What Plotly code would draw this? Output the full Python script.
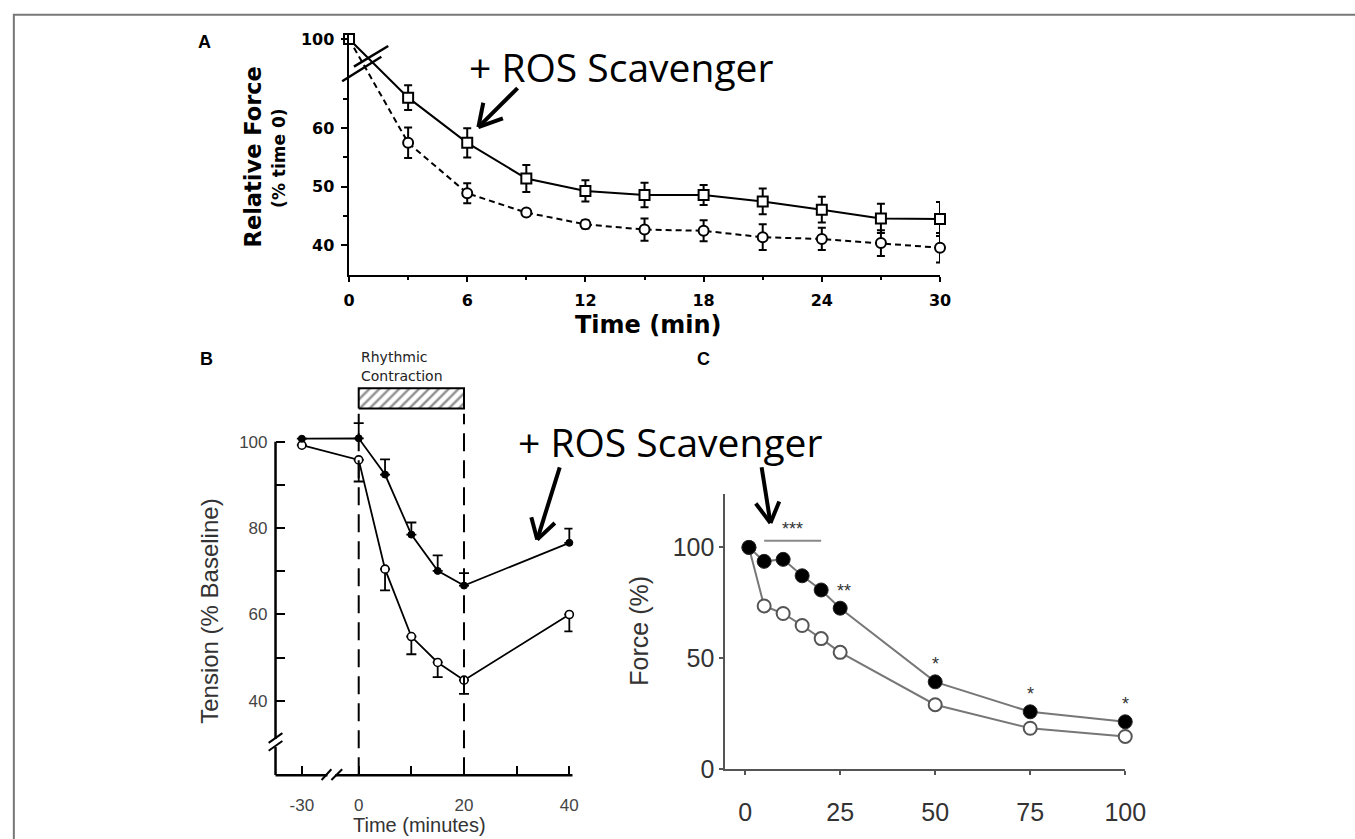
import plotly.graph_objects as go

W, H = 1355, 839


def X(px):
    return px / W


def Y(py):
    return 1 - py / H


# ---------------- data ----------------
# Panel A : relative force (% time 0) vs time (min)
a_time = [0, 3, 6, 9, 12, 15, 18, 21, 24, 27, 30]
a_scav = [100, 65.2, 57.5, 51.4, 49.3, 48.6, 48.6, 47.5, 46.1, 44.6, 44.5]
a_scav_err = [0, 2.1, 2.5, 2.3, 1.8, 2.1, 1.7, 2.2, 2.2, 2.5, 2.9]
a_ctrl = [100, 57.5, 48.9, 45.6, 43.6, 42.7, 42.5, 41.4, 41.1, 40.4, 39.6]
a_ctrl_err = [0, 2.6, 1.7, 0.5, 0.7, 1.9, 1.8, 2.2, 1.9, 2.2, 2.5]
a_xticks = [0, 6, 12, 18, 24, 30]
a_xminor = [3, 9, 15, 21, 27]
a_yticks = [40, 50, 60, 100]
a_yminor = [45, 55, 65]

# Panel B : tension (% baseline) vs time (minutes)
b_time = [-30, 0, 5, 10, 15, 20, 40]
b_scav = [100.7, 100.8, 92.4, 78.5, 70.1, 66.7, 76.6]
b_scav_err = [0, 3.5, 3.5, 2.8, 3.6, 2.9, 3.3]
b_ctrl = [99.2, 95.8, 70.5, 54.9, 48.9, 44.8, 60.0]
b_ctrl_err = [0, 5.0, 4.9, 4.1, 3.4, 3.2, 3.9]
b_xticks = [-30, 0, 10, 20, 30, 40]
b_xticktext = ["-30", "0", "", "20", "", "40"]
b_yticks = [40, 50, 60, 70, 80, 90, 100]
b_yticktext = ["40", "", "60", "", "80", "", "100"]
contraction = [0, 20]

# Panel C : force (%) vs time
c_time = [1, 5, 10, 15, 20, 25, 50, 75, 100]
c_scav = [100, 93.7, 94.6, 87.2, 80.8, 72.6, 39.4, 25.9, 21.4]
c_ctrl = [100, 73.6, 70.2, 64.8, 58.9, 52.7, 29.1, 18.5, 14.8]
c_xticks = [0, 25, 50, 75, 100]
c_yticks = [0, 50, 100]
c_sig_x = [12.5, 26, 50, 75, 100]
c_sig_y = [108.5, 80.5, 47.5, 34, 29.5]
c_sig_text = ["***", "**", "*", "*", "*"]
c_sig_bar = [5, 20]
c_sig_bar_y = 103

# ---------------- broken-axis helpers ----------------
A_SHIFT = 24.8  # values above the break are drawn this much lower


def a_disp(v):
    return v - A_SHIFT if v > 72 else v


B_NEG = 0.36  # compression of the negative (pre) time segment


def b_disp(t):
    return t * B_NEG if t < 0 else t


fig = go.Figure()

# ---------------- Panel A ----------------
fig.add_trace(go.Scatter(
    x=a_time, y=[a_disp(v) for v in a_ctrl], mode="lines+markers",
    line=dict(color="black", width=2, dash="6px,4px"),
    marker=dict(symbol="circle", size=10, color="white", line=dict(color="black", width=2)),
    error_y=dict(type="data", array=a_ctrl_err, color="black", thickness=2, width=4),
    cliponaxis=False, xaxis="x", yaxis="y", showlegend=False))
fig.add_trace(go.Scatter(
    x=a_time, y=[a_disp(v) for v in a_scav], mode="lines+markers",
    line=dict(color="black", width=2),
    marker=dict(symbol="square", size=10, color="white", line=dict(color="black", width=2)),
    error_y=dict(type="data", array=a_scav_err, color="black", thickness=2, width=4),
    cliponaxis=False, xaxis="x", yaxis="y", showlegend=False))

# ---------------- Panel B ----------------
bx = [b_disp(t) for t in b_time]
# hatched "Rhythmic Contraction" bar
box_y0, box_y1 = 107.7, 112.4
fig.add_trace(go.Scatter(
    x=[contraction[0], contraction[1], contraction[1], contraction[0], contraction[0]],
    y=[box_y0, box_y0, box_y1, box_y1, box_y0], mode="lines", fill="toself",
    fillcolor="white",
    fillpattern=dict(shape="/", fgcolor="#222", bgcolor="white", size=7, solidity=0.35),
    line=dict(color="black", width=2), xaxis="x2", yaxis="y2", showlegend=False,
    hoverinfo="skip"))
fig.add_trace(go.Scatter(
    x=bx, y=b_ctrl, mode="lines+markers",
    line=dict(color="black", width=1.8),
    marker=dict(symbol="circle", size=8, color="white", line=dict(color="black", width=1.6)),
    error_y=dict(type="data", symmetric=False, array=[0] * len(b_ctrl_err),
                 arrayminus=b_ctrl_err, color="black", thickness=1.8, width=5),
    cliponaxis=False, xaxis="x2", yaxis="y2", showlegend=False))
fig.add_trace(go.Scatter(
    x=bx, y=b_scav, mode="lines+markers",
    line=dict(color="black", width=1.8),
    marker=dict(symbol="circle", size=7, color="black", line=dict(color="black", width=1)),
    error_y=dict(type="data", symmetric=False, array=b_scav_err,
                 arrayminus=[0] * len(b_scav_err), color="black", thickness=1.8, width=5),
    cliponaxis=False, xaxis="x2", yaxis="y2", showlegend=False))

# ---------------- Panel C ----------------
fig.add_trace(go.Scatter(
    x=c_time, y=c_ctrl, mode="lines+markers",
    line=dict(color="#777", width=2),
    marker=dict(symbol="circle", size=13, color="white", line=dict(color="#555", width=2)),
    cliponaxis=False, xaxis="x3", yaxis="y3", showlegend=False))
fig.add_trace(go.Scatter(
    x=c_time, y=c_scav, mode="lines+markers",
    line=dict(color="#777", width=2),
    marker=dict(symbol="circle", size=14, color="black", line=dict(color="#222", width=1)),
    cliponaxis=False, xaxis="x3", yaxis="y3", showlegend=False))

# ---------------- axes ----------------
fontA = dict(family="DejaVu Sans", size=16, color="black", weight="bold")
fontB = dict(family="Liberation Sans", size=17, color="#444")
fontC = dict(family="Liberation Sans", size=25, color="#333")

layout = dict(
    width=W, height=H, autosize=False,
    margin=dict(l=0, r=0, t=0, b=0),
    paper_bgcolor="white", plot_bgcolor="rgba(0,0,0,0)",
    xaxis=dict(domain=[X(350), X(953)], range=[0, 30], anchor="y",
               showline=True, linecolor="black", linewidth=2.5,
               ticks="outside", ticklen=5, tickwidth=2, tickcolor="black",
               tickvals=a_xticks, tickfont=fontA, ticklabelstandoff=5,
               minor=dict(tickvals=a_xminor, ticks="outside", ticklen=3, tickwidth=2, tickcolor="black"),
               showgrid=False, zeroline=False, fixedrange=True),
    yaxis=dict(domain=[Y(276), Y(30)], range=[35, 76], anchor="x",
               showline=True, linecolor="black", linewidth=2.5,
               ticks="outside", ticklen=6, tickwidth=2, tickcolor="black",
               tickvals=[a_disp(v) for v in a_yticks], ticktext=[str(v) for v in a_yticks],
               tickfont=fontA, ticklabelstandoff=3,
               minor=dict(tickvals=a_yminor, ticks="outside", ticklen=4, tickwidth=2, tickcolor="black"),
               showgrid=False, zeroline=False, fixedrange=True),
    xaxis2=dict(domain=[X(275), X(578)], range=[-15.8, 40.6], anchor="y2",
                showline=False, ticks="inside", ticklen=9, tickwidth=2, tickcolor="black",
                tickvals=[b_disp(t) for t in b_xticks], ticktext=b_xticktext,
                tickfont=fontB, ticklabelstandoff=18,
                showgrid=False, zeroline=False, fixedrange=True),
    yaxis2=dict(domain=[Y(788), Y(347)], range=[22.8, 122.6], anchor="x2",
                showline=False, ticks="inside", ticklen=9, tickwidth=2, tickcolor="black",
                tickvals=b_yticks, ticktext=b_yticktext, tickfont=fontB, ticklabelstandoff=7,
                showgrid=False, zeroline=False, fixedrange=True),
    xaxis3=dict(domain=[X(734), X(1142)], range=[-5.2, 100], anchor="y3",
                showline=True, linecolor="#555", linewidth=2,
                ticks="outside", ticklen=4, tickwidth=2, tickcolor="#555",
                tickvals=c_xticks, tickfont=fontC, ticklabelstandoff=16,
                showgrid=False, zeroline=False, fixedrange=True),
    yaxis3=dict(domain=[Y(782), Y(500)], range=[0, 124.2], anchor="x3",
                showline=True, linecolor="#555", linewidth=2,
                ticks="outside", ticklen=4, tickwidth=2, tickcolor="#555",
                tickvals=c_yticks, tickfont=fontC, ticklabelstandoff=0,
                showgrid=False, zeroline=False, fixedrange=True),
)


def note(text, px, py, size, color="black", family="Liberation Sans", weight="normal",
         angle=0, xanchor="center", yanchor="middle", yshift=0):
    return dict(text=text, x=X(px), y=Y(py), xref="paper", yref="paper", showarrow=False,
                textangle=angle, xanchor=xanchor, yanchor=yanchor, yshift=yshift,
                font=dict(size=size, color=color, family=family, weight=weight))


annotations = [
    note("A", 203, 38, 18, weight="bold"),
    note("B", 205, 362, 18, weight="bold"),
    note("C", 712, 362, 18, weight="bold"),
    note("Relative Force", 253, 155, 22.5, family="DejaVu Sans", weight="bold", angle=-90),
    note("(% time 0)", 279, 157, 17, family="DejaVu Sans", weight="bold", angle=-90),
    note("Time (min)", 656, 327, 24, family="DejaVu Sans", weight="bold"),
    note("+ ROS Scavenger", 628, 63, 39, family="Open Sans"),
    note("+ ROS Scavenger", 678, 447, 39, family="Open Sans"),
    note("Rhythmic", 360, 360, 14, color="#222", family="DejaVu Sans", xanchor="left"),
    note("Contraction", 360, 380, 14, color="#222", family="DejaVu Sans", xanchor="left"),
    note("Tension (% Baseline)", 208, 620, 24, color="#333", angle=-90),
    note("Time (minutes)", 422, 827, 20, color="#333", yshift=-12),
    note("Force (%)", 645, 640, 25, color="#333", angle=-90),
]
for sx, sy, st in zip(c_sig_x, c_sig_y, c_sig_text):
    annotations.append(dict(text=st, x=sx, y=sy, xref="x3", yref="y3", showarrow=False,
                            font=dict(size=18, color="#333", family="Liberation Sans")))
layout["annotations"] = annotations


def seg(x0, y0, x1, y1, width=2, color="black", dash=None):
    d = dict(type="line", xref="paper", yref="paper", x0=X(x0), y0=Y(y0), x1=X(x1), y1=Y(y1),
             line=dict(color=color, width=width))
    if dash:
        d["line"]["dash"] = dash
    return d


def arrow(tail, tip, arm1, arm2, width=4):
    return [seg(*tail, *tip, width=width), seg(*tip, *arm1, width=width), seg(*tip, *arm2, width=width)]


shapes = [
    # outer frame
    dict(type="rect", xref="paper", yref="paper", x0=X(8), x1=1.05, y0=-0.05, y1=Y(10),
         line=dict(color="#777", width=2), fillcolor="rgba(0,0,0,0)"),
    # panel A axis break
    seg(343, 78, 383, 53, width=2.5),
    seg(355, 63, 390, 42, width=2.5),
    # panel B axis lines (with breaks)
    seg(275, 788, 328, 788, width=2.5),
    seg(336, 788, 578, 788, width=2.5),
    seg(322, 793, 332, 782, width=2),
    seg(332, 793, 343, 782, width=2),
    dict(type="line", xref="x2 domain", yref="y2", x0=0, x1=0, y0=22.8, y1=29.3,
         line=dict(color="black", width=2.5)),
    dict(type="line", xref="x2 domain", yref="y2", x0=0, x1=0, y0=31.2, y1=100,
         line=dict(color="black", width=2.5)),
    seg(268, 755, 282, 745, width=2),
    seg(268, 763, 282, 753, width=2),
    # panel C significance bar
    dict(type="line", xref="x3", yref="y3", x0=c_sig_bar[0], x1=c_sig_bar[1],
         y0=c_sig_bar_y, y1=c_sig_bar_y, line=dict(color="#888", width=2)),
]
# dashed contraction period markers in B
for t in contraction:
    shapes.append(dict(type="line", xref="x2", yref="y2", x0=t, x1=t, y0=22.8, y1=106.5,
                       line=dict(color="black", width=2, dash="18px,9px")))
# arrows
shapes += arrow((522, 85), (482, 125), (487, 100), (507, 116))
shapes += arrow((565, 473), (542, 547), (536, 524), (560, 530))
shapes += arrow((771, 473), (780, 530), (765, 510), (789, 508))
layout["shapes"] = shapes

fig.update_layout(**layout)

fig.write_html("out.html", config={"displayModeBar": False, "staticPlot": True},
               post_script="document.body.style.margin='0';document.body.style.overflow='hidden';")
